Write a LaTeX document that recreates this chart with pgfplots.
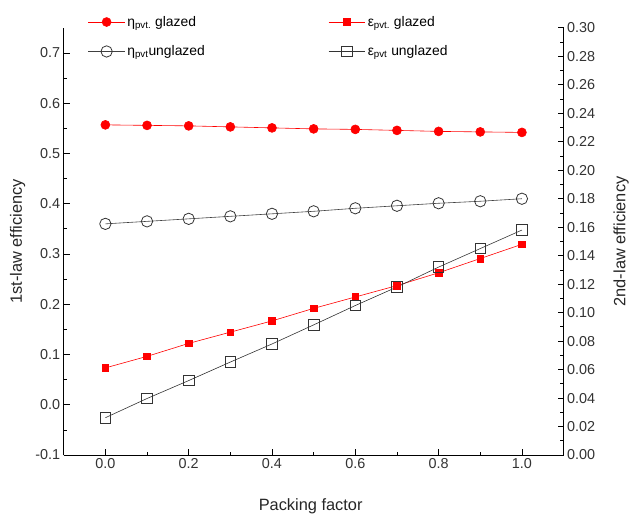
\documentclass[border=0pt]{standalone}
\usepackage{fontspec}
\setmainfont{Liberation Sans}
\usepackage{pgfplots}
\pgfplotsset{compat=1.18}
\begin{document}
\begin{tikzpicture}[x=1bp,y=1bp]
\pgfplotsset{
  every axis/.append style={
    scale only axis, width=502bp, height=429bp,
    xmin=-0.1, xmax=1.1,
    /pgf/number format/assume math mode=true,
    tick label style={font=\fontsize{14.5}{16}\selectfont, color=black!80},
    tick style={black, line width=0.8pt},
    major tick length=6bp, minor tick length=3.5bp,
    axis line style={line width=0.9pt},
  },
  mEg/.style={red, line width=0.6pt, mark=*, mark size=4.5bp, mark options={fill=red,draw=red}},
  mEu/.style={black!75, line width=0.6pt, mark=o, mark size=5.7bp, mark options={fill=white,draw=black!80,line width=0.8pt}},
  mXg/.style={red, line width=0.6pt, mark=square*, mark size=3.3bp, mark options={fill=red,draw=red}},
  mXu/.style={black!80, line width=0.6pt, mark=square, mark size=5.3bp, mark options={fill=white,draw=black!80,line width=0.8pt}},
}
\begin{axis}[name=main,
  axis x line*=bottom, axis y line*=left,
  ymin=-0.1, ymax=0.75,
  xtick={0,0.2,...,1.0}, minor xtick={0.1,0.3,...,0.9},
  ytick={-0.1,0,0.1,0.2,0.3,0.4,0.5,0.6,0.7},
  minor ytick={-0.05,0.05,0.15,0.25,0.35,0.45,0.55,0.65},
  xticklabel style={/pgf/number format/.cd,fixed,fixed zerofill,precision=1},
  yticklabel style={/pgf/number format/.cd,fixed,fixed zerofill,precision=1},
  xlabel={Packing factor},
  ylabel={1st-law efficiency},
  every axis x label/.style={at={(0.494,-0.13)},anchor=base,font=\fontsize{16.5}{18}\selectfont,color=black!85},
  every axis y label/.style={at={(-0.0837,0.5)},rotate=90,anchor=base,font=\fontsize{16.5}{18}\selectfont,color=black!85},
]
\addplot[mEg] coordinates {
(0.0,0.557) (0.1,0.556) (0.2,0.555) (0.3,0.553) (0.4,0.551) (0.5,0.549) (0.6,0.548) (0.7,0.546) (0.8,0.544) (0.9,0.543) (1.0,0.542)};
\addplot[mEu] coordinates {
(0.0,0.360) (0.1,0.365) (0.2,0.370) (0.3,0.375) (0.4,0.380) (0.5,0.385) (0.6,0.391) (0.7,0.396) (0.8,0.401) (0.9,0.405) (1.0,0.410)};
\end{axis}
\begin{axis}[
  axis y line*=right, axis x line=none,
  ymin=0, ymax=0.30,
  ytick={0,0.02,...,0.30},
  minor ytick={0.01,0.03,...,0.29},
  yticklabel style={/pgf/number format/.cd,fixed,fixed zerofill,precision=2},
  ylabel={2nd-law efficiency},
  every axis y label/.style={at={(1.1235,0.5)},rotate=90,anchor=base,font=\fontsize{16.5}{18}\selectfont,color=black!85},
  legend columns=2,
  legend style={draw=none, fill=none, at={(0.042,1.037)}, anchor=north west,
    font=\fontsize{14}{16}\selectfont, row sep=14bp,
    /tikz/every even column/.append style={column sep=122bp}},
  legend cell align=left,
  legend image code/.code={\draw[#1] (0bp,0bp) -- (37bp,0bp); \draw[#1,only marks] plot coordinates {(18.5bp,0bp)};},
]
\addlegendimage{mEg}
\addlegendentry{η\textsubscript{pvt.} glazed}
\addplot[mXg] coordinates {
(0.0,0.0612) (0.1,0.0693) (0.2,0.0784) (0.3,0.0863) (0.4,0.0942) (0.5,0.1030) (0.6,0.1110) (0.7,0.1190) (0.8,0.1280) (0.9,0.1380) (1.0,0.1480)};
\addlegendentry{ε\textsubscript{pvt.} glazed}
\addlegendimage{mEu}
\addlegendentry{η\textsubscript{pvt}unglazed}
\addplot[mXu] coordinates {
(0.0,0.0262) (0.1,0.0397) (0.2,0.0523) (0.3,0.0653) (0.4,0.0780) (0.5,0.0914) (0.6,0.1050) (0.7,0.1180) (0.8,0.1320) (0.9,0.1450) (1.0,0.1580)};
\addlegendentry{ε\textsubscript{pvt} unglazed}
\end{axis}
\path[use as bounding box] ([shift={(-64bp,-58bp)}]main.south west) rectangle ++(632bp,515bp);
\end{tikzpicture}
\end{document}
